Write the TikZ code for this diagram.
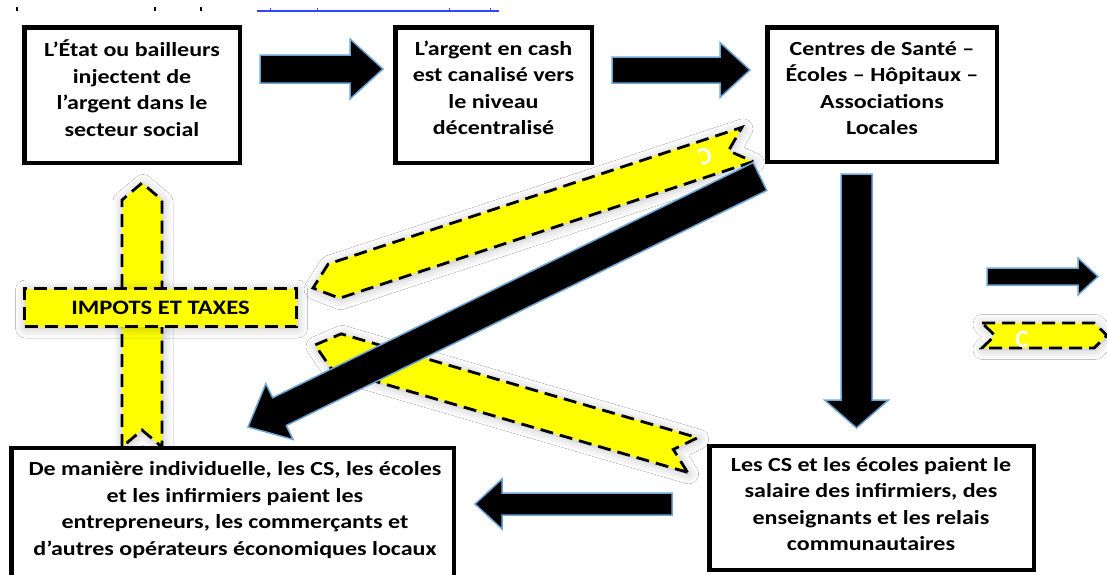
\documentclass[tikz,border=0pt]{standalone}
\usepackage{fontspec}
\setmainfont{Carlito}
\newfontfamily\boxfont[FakeStretch=1.2]{Carlito}
\usetikzlibrary{calc,shadows.blur}
\definecolor{ribbonyellow}{RGB}{255,255,0}
\definecolor{arrowedge}{RGB}{110,165,215}
\definecolor{linkblue}{RGB}{50,70,255}
\tikzset{
  box/.style={draw=black,line width=4.5pt,fill=white,rectangle,inner sep=0pt},
  boxtext/.style={font=\boxfont\bfseries\fontsize{20}{26.5}\selectfont,align=center,inner sep=0pt},
  blockarrow/.style={fill=black,draw=arrowedge,line width=1.5pt,line join=miter},
  ribbon/.style={fill=ribbonyellow,draw=black,line width=2.8pt,dash pattern=on 13pt off 7pt,line join=miter,
    blur shadow={shadow xshift=1pt,shadow yshift=-1.5pt,shadow blur radius=10pt,shadow opacity=28}},
  ribbontext/.style={text=white,font=\bfseries\fontsize{25}{26}\selectfont,inner sep=0pt}
}
\newcommand{\myblockarrow}[5]{%
  \coordinate (bh) at ($(#2)!#5!(#1)$);
  \draw[blockarrow] ($(#1)!#3!90:(#2)$) -- ($(bh)!#3!90:(#2)$) -- ($(bh)!#4!90:(#2)$) -- (#2)
    -- ($(bh)!#4!-90:(#2)$) -- ($(bh)!#3!-90:(#2)$) -- ($(#1)!#3!-90:(#2)$) -- cycle;}
\newcommand{\myribbon}[5]{%
  \coordinate (rh) at ($(#2)!#4!(#1)$);
  \coordinate (rn) at ($(#1)!#5!(#2)$);
  \draw[ribbon] ($(#1)!#3!90:(#2)$) -- ($(rh)!#3!90:(#2)$) -- (#2) -- ($(rh)!#3!-90:(#2)$)
    -- ($(#1)!#3!-90:(#2)$) -- (rn) -- cycle;}
\begin{document}
\begin{tikzpicture}[x=1pt,y=-1pt]
\useasboundingbox (0,0) rectangle (1107,574);
\clip (0,0) rectangle (1107,574);
\fill[white] (0,0) rectangle (1107,574);
% remnants of the cut-off line above
\draw[linkblue,line width=1.5pt] (257,11) -- (499,11);
\foreach \tx in {270,317,449,490} \draw[linkblue,line width=1pt] (\tx,8) -- (\tx,11);
\foreach \tx in {17,155,201} \fill[black] (\tx-1,7) rectangle (\tx+1,11);
% top boxes
\node[box,minimum width=215.5pt,minimum height=135.5pt] (boxA) at (132,95) {};
\node[boxtext] (tA) at (132,88) {L’État ou bailleurs\\injectent de\\l’argent dans le\\secteur social};
\node[box,minimum width=196.5pt,minimum height=135.5pt] (boxB) at (493.5,95) {};
\node[boxtext] (tB) at (493.5,88) {L’argent en cash\\est canalisé vers\\le niveau\\décentralisé};
\node[box,minimum width=229.5pt,minimum height=134.5pt] (boxC) at (882,94.5) {};
\node[boxtext] (tC) at (882,88) {Centres de Santé –\\Écoles – Hôpitaux –\\Associations\\Locales};
% black arrows
\coordinate (a1s) at (260,69); \coordinate (a1e) at (383,69);
\coordinate (a2s) at (612,70); \coordinate (a2e) at (750,70);
\coordinate (a3s) at (856.5,174); \coordinate (a3e) at (856.5,428);
\myblockarrow{a1s}{a1e}{14pt}{30pt}{33pt}
\myblockarrow{a2s}{a2e}{13pt}{27.5pt}{30pt}
\myblockarrow{a3s}{a3e}{15.5pt}{32pt}{28pt}
% vertical yellow ribbon and taxes box
\coordinate (y3s) at (142,447); \coordinate (y3e) at (142,183);
\myribbon{y3s}{y3e}{20pt}{17pt}{17pt}
\node[ribbon,minimum width=272pt,minimum height=38pt,inner sep=0pt,
  font=\boxfont\bfseries\fontsize{20.5}{22}\selectfont] (taxes) at (160.5,307.5) {IMPOTS ET TAXES};
% diagonal yellow ribbons
\coordinate (y1s) at (747.5,144.5); \coordinate (y1e) at (313,288);
\myribbon{y1s}{y1e}{18pt}{22pt}{20pt}
\node[ribbontext,rotate=198.3] (cY1) at (705,156) {C};
\coordinate (y2s) at (692.5,455); \coordinate (y2e) at (315,345);
\myribbon{y2s}{y2e}{18pt}{22pt}{20pt}
% diagonal black arrow
\coordinate (a4s) at (760,176.5); \coordinate (a4e) at (248,427);
\myblockarrow{a4s}{a4e}{15.5pt}{31pt}{35pt}
% bottom boxes
\node[box,minimum width=324.5pt,minimum height=124pt] (boxD) at (871.5,508) {};
\node[boxtext] (tD) at (871,504) {Les CS et les écoles paient le\\salaire des infirmiers, des\\enseignants et les relais\\communautaires};
\node[box,minimum width=442.5pt,minimum height=152pt] (boxE) at (232.5,524) {};
\node[boxtext] (tE) at (235,510) {De manière individuelle, les CS, les écoles\\et les infirmiers paient les\\entrepreneurs, les commerçants et\\d’autres opérateurs économiques locaux};
\coordinate (a5s) at (672,504); \coordinate (a5e) at (475,504);
\myblockarrow{a5s}{a5e}{11pt}{25pt}{27pt}
% legend
\coordinate (l1s) at (987,276.5); \coordinate (l1e) at (1098,276.5);
\myblockarrow{l1s}{l1e}{8.5pt}{18.5pt}{20pt}
\coordinate (l2s) at (982,335.5); \coordinate (l2e) at (1107,335.5);
\myribbon{l2s}{l2e}{12.5pt}{13pt}{13pt}
\node[ribbontext] (cY4) at (1022,339) {C};
\end{tikzpicture}
\end{document}
